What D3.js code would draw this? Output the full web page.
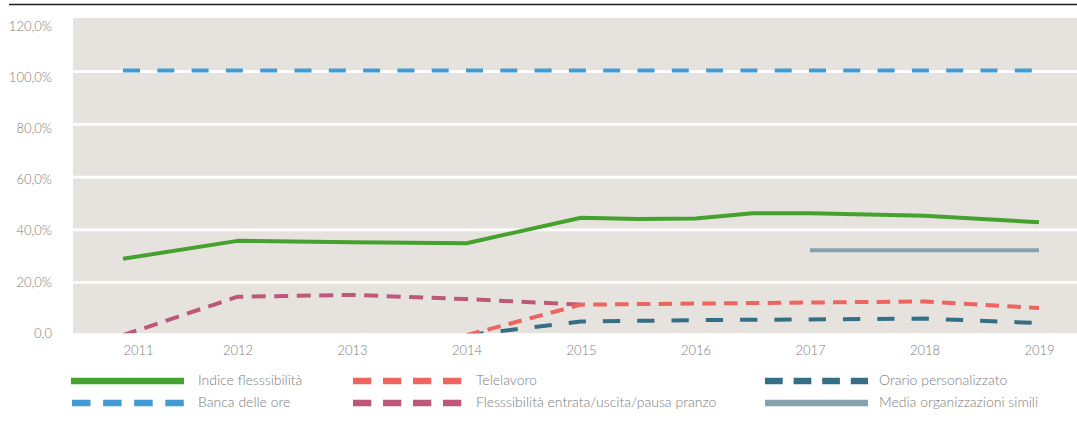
<!DOCTYPE html>
<html>
<head>
<meta charset="utf-8">
<script src="https://cdn.jsdelivr.net/npm/d3@7"></script>
<style>
  html, body { margin: 0; padding: 0; background: #ffffff; }
  svg { display: block; }
  text { font-family: Lato, "Open Sans", sans-serif; }
</style>
</head>
<body>
<svg id="chart" width="1077" height="430"></svg>
<script>
// ---- data ----
const years = [2011, 2012, 2013, 2014, 2015, 2016, 2017, 2018, 2019];
const yTicks = [0, 20, 40, 60, 80, 100, 120];
const yTickLabels = ["0,0", "20,0%", "40,0%", "60,0%", "80,0%", "100,0%", "120,0%"];

const indiceX = [2011, 2012, 2013, 2014, 2015, 2015.5, 2016, 2016.5, 2017, 2018, 2019];
const indiceV = [29.0, 35.8, 35.3, 34.9, 44.6, 44.1, 44.3, 46.3, 46.3, 45.3, 42.9];

const bancaX = [2011, 2012, 2013, 2014, 2015, 2016, 2017, 2018, 2019];
const bancaV = [100.5, 100.5, 100.5, 100.5, 100.5, 100.5, 100.5, 100.5, 100.5];

const flessX = [2011, 2012, 2013, 2014, 2015];
const flessV = [0, 14.6, 15.3, 13.7, 11.6];

const teleX = [2014, 2015, 2016, 2017, 2018, 2019];
const teleV = [0, 11.6, 12.0, 12.4, 12.8, 10.3];

const orarioX = [2014, 2015, 2016, 2017, 2018, 2019];
const orarioV = [0, 5.2, 5.7, 6.0, 6.3, 4.6];

const mediaX = [2017, 2018, 2019];
const mediaV = [32.2, 32.2, 32.2];

const legendLabels = [
  "Indice flesssibilità", "Banca delle ore",
  "Telelavoro", "Flesssibilità entrata/uscita/pausa pranzo",
  "Orario personalizzato", "Media organizzazioni simili"
];

// ---- styles ----
const C = {
  green: "#45a22f", blue: "#429bd4", red: "#ec655f", pink: "#bd5879",
  teal: "#346f86", slate: "#87a1af", bg: "#e6e3df", text: "#7c7c7c"
};

const svg = d3.select("#chart");

const x = d3.scaleLinear().domain([2011, 2019]).range([123, 1039]);
const y = d3.scaleLinear().domain([0, 120]).range([335.2, 19]);
const yLab = d3.scaleLinear().domain([0, 120]).range([333, 26]);

const plotTop = y(120) - 1, plotBottom = y(0) - 2;

// top rule
svg.append("line").attr("x1", 9).attr("x2", 1077).attr("y1", 4.5).attr("y2", 4.5)
  .attr("stroke", "#1e1e1e").attr("stroke-width", 1.6);

// plot background
svg.append("rect").attr("x", 73).attr("y", plotTop)
  .attr("width", 1077 - 73).attr("height", plotBottom - plotTop)
  .attr("fill", C.bg);

svg.append("clipPath").attr("id", "plotclip").append("rect")
  .attr("x", 73).attr("y", plotTop).attr("width", 1077 - 73).attr("height", plotBottom - plotTop);

// gridlines
svg.append("g").selectAll("line").data(yTicks.filter(d => d > 0 && d < 120)).join("line")
  .attr("x1", 73).attr("x2", 1077)
  .attr("y1", d => y(d)).attr("y2", d => y(d))
  .attr("stroke", "#ffffff").attr("stroke-width", 2.7);

// y axis labels
const yAxis = d3.axisLeft(yLab).tickValues(yTicks)
  .tickFormat((d, i) => yTickLabels[i]).tickSize(0).tickPadding(0);
const gy = svg.append("g").attr("transform", "translate(52,0)").call(yAxis);
gy.select(".domain").remove();
gy.selectAll("text").attr("fill", C.text).attr("font-size", 13).attr("font-weight", 300)
  .attr("font-family", "Lato, 'Open Sans', sans-serif");

// x axis labels
const xAxis = d3.axisBottom(x).tickValues(years).tickFormat(d3.format("d")).tickSize(0).tickPadding(0);
const gx = svg.append("g").attr("transform", "translate(0,346)").call(xAxis);
gx.select(".domain").remove();
gx.selectAll("text").attr("fill", C.text).attr("font-size", 13).attr("font-weight", 300)
  .attr("font-family", "Lato, 'Open Sans', sans-serif")
  .attr("text-anchor", (d, i) => i === 0 ? "start" : "middle");

// lines
const lines = svg.append("g").attr("clip-path", "url(#plotclip)");
const line = d3.line().x(d => x(d[0])).y(d => y(d[1]));
function series(xs, vs, color, dash) {
  lines.append("path")
    .datum(xs.map((v, i) => [v, vs[i]]))
    .attr("d", line)
    .attr("fill", "none")
    .attr("stroke", color)
    .attr("stroke-width", 4)
    .attr("stroke-linejoin", "round")
    .attr("stroke-dasharray", dash || null);
}
series(mediaX, mediaV, C.slate, null);
series(indiceX, indiceV, C.green, null);
series(bancaX, bancaV, C.blue, "17,17.3");
series(flessX, flessV, C.pink, "14,8.5");
series(orarioX, orarioV, C.teal, "17.3,17");
series(teleX, teleV, C.red, "13.5,8.3");

// legend
const legendItems = [
  { x: 71, w: 113, y: 381, color: C.green, dash: null, tx: 198, label: legendLabels[0] },
  { x: 72, w: 112, y: 403, color: C.blue, dash: "18.5,12.6", tx: 198, label: legendLabels[1] },
  { x: 353, w: 109, y: 381, color: C.red, dash: "18.3,11.7", tx: 476, label: legendLabels[2] },
  { x: 353, w: 109, y: 403, color: C.pink, dash: "18.3,11.7", tx: 476, label: legendLabels[3] },
  { x: 765, w: 103, y: 381, color: C.teal, dash: "17.7,10.9", tx: 879, label: legendLabels[4] },
  { x: 765, w: 103, y: 403, color: C.slate, dash: null, tx: 879, label: legendLabels[5] }
];
const lg = svg.append("g").selectAll("g").data(legendItems).join("g");
lg.append("line")
  .attr("x1", d => d.x).attr("x2", d => d.x + d.w)
  .attr("y1", d => d.y).attr("y2", d => d.y)
  .attr("stroke", d => d.color).attr("stroke-width", 6.5)
  .attr("stroke-dasharray", d => d.dash);
lg.append("text")
  .attr("x", d => d.tx).attr("y", d => d.y - 1).attr("dy", "0.35em")
  .attr("fill", C.text).attr("font-size", 14).attr("font-weight", 300)
  .text(d => d.label);
</script>
</body>
</html>
